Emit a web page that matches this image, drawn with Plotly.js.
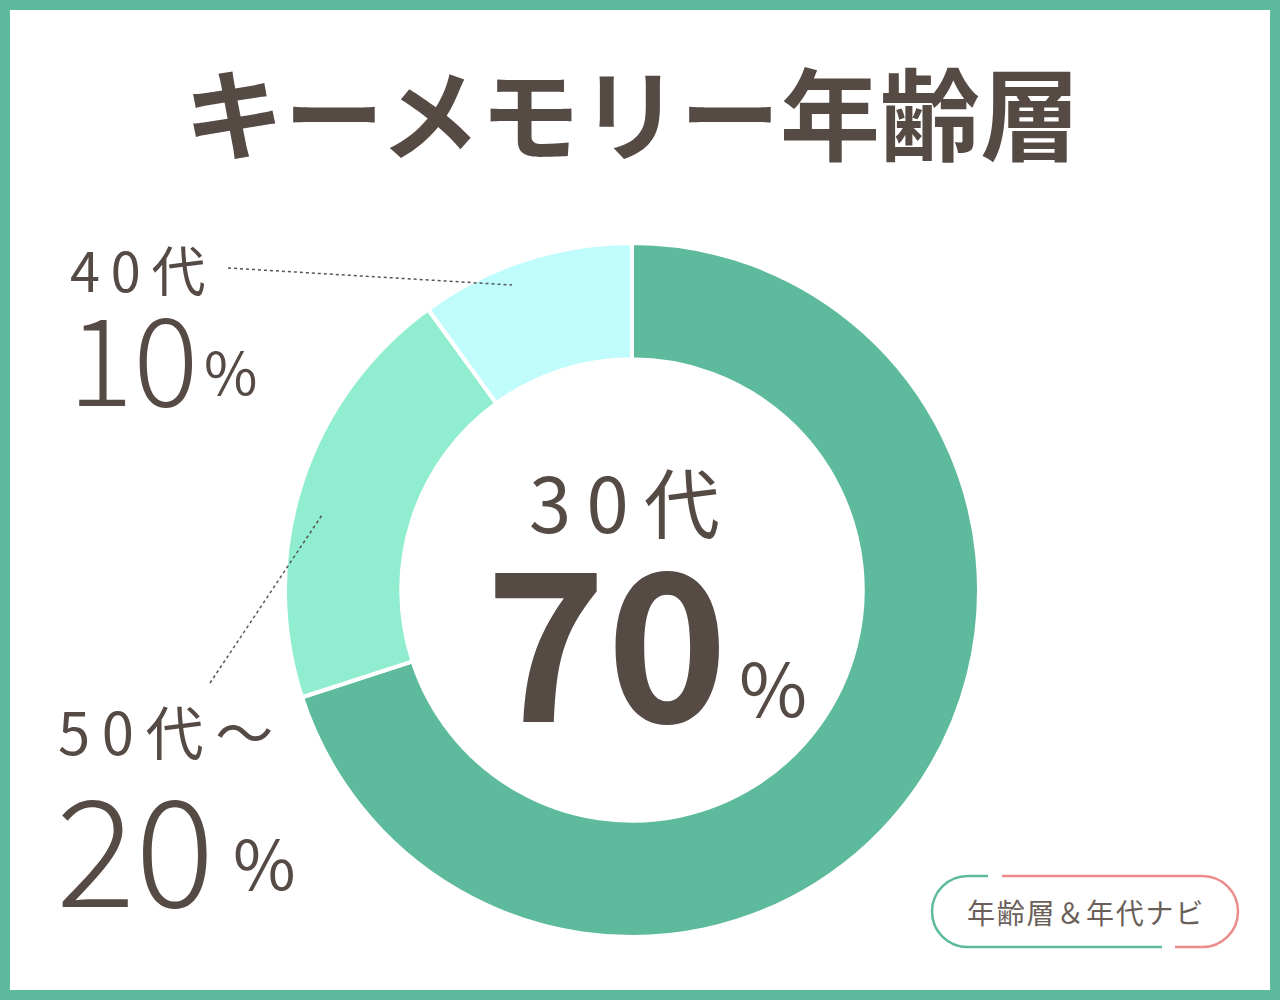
<!DOCTYPE html>
<html>
<head>
<meta charset="utf-8">
<script src="https://cdn.plot.ly/plotly-3.0.1.min.js"></script>
<style>
  body { margin: 0; background: #fff; }
  #myDiv { width: 1280px; height: 1000px; }
</style>
</head>
<body>
<div id="myDiv"></div>
<script>
var labels = ['30代', '50代～', '40代'];
var values = [70, 20, 10];
var colors = ['#5dba9d', '#90edd0', '#c1fcfc'];
var pctText = ['70', '20', '10'];

var W = 1280, H = 1000;
function px(x) { return x / W; }
function py(y) { return 1 - y / H; }

var ink = '#564a45';
var jp = '"Noto Sans CJK JP", "Noto Sans", sans-serif';

// widen the letter spacing a little, like the rounded font of the original
function spaced(s, gap) { return s.split('').join(gap || '\u2009'); }

var trace = {
  type: 'pie',
  labels: labels,
  values: values,
  marker: { colors: colors, line: { color: '#ffffff', width: 4 } },
  hole: 0.665,
  sort: false,
  direction: 'clockwise',
  rotation: 0,
  textinfo: 'none',
  hoverinfo: 'none',
  showlegend: false,
  domain: { x: [px(285), px(979)], y: [py(937), py(243)] }
};

// badge outline (green left half, pink right half)
var k = 35.5 * 0.5523;
function P(x, y) { return px(x) + ',' + py(y); }
var greenPath = 'M' + P(988, 876) + ' L' + P(967.5, 876) +
  ' C' + P(967.5 - k, 876) + ' ' + P(932, 911.5 - k) + ' ' + P(932, 911.5) +
  ' C' + P(932, 911.5 + k) + ' ' + P(967.5 - k, 947) + ' ' + P(967.5, 947) +
  ' L' + P(1162, 947);
var pinkPath = 'M' + P(1002, 876) + ' L' + P(1202.5, 876) +
  ' C' + P(1202.5 + k, 876) + ' ' + P(1238, 911.5 - k) + ' ' + P(1238, 911.5) +
  ' C' + P(1238, 911.5 + k) + ' ' + P(1202.5 + k, 947) + ' ' + P(1202.5, 947) +
  ' L' + P(1175, 947);

var shapes = [
  { type: 'rect', xref: 'paper', yref: 'paper', x0: px(5), x1: px(1275), y0: py(5), y1: py(995),
    line: { color: '#5dba9d', width: 10 }, fillcolor: 'rgba(0,0,0,0)' },
  { type: 'line', xref: 'paper', yref: 'paper', x0: px(228), y0: py(268), x1: px(512), y1: py(285),
    line: { color: '#555555', width: 1.5, dash: 'dot' } },
  { type: 'line', xref: 'paper', yref: 'paper', x0: px(210), y0: py(683), x1: px(322), y1: py(515),
    line: { color: '#555555', width: 1.5, dash: 'dot' } },
  { type: 'path', xref: 'paper', yref: 'paper', path: greenPath, line: { color: '#5dba9d', width: 2.5 } },
  { type: 'path', xref: 'paper', yref: 'paper', path: pinkPath, line: { color: '#ec8c8c', width: 2.5 } }
];

function note(x, y, text, size, anchor, weight, color) {
  return {
    xref: 'paper', yref: 'paper', x: px(x), y: py(y), text: text, showarrow: false,
    xanchor: anchor || 'center', yanchor: 'middle',
    font: { family: jp, size: size, color: color || ink, weight: weight || 'normal' }
  };
}

var annotations = [
  note(632, 110, 'キーメモリー年齢層', 100, 'center', 'bold'),
  // center
  note(624, 500, spaced(labels[0], '\u2009'), 76, 'center'),
  note(606, 632, pctText[0], 206, 'center', 'bold'),
  note(773, 684, '%', 74, 'center'),
  // 40代
  note(68, 268, spaced(labels[2], '\u2009'), 54, 'left'),
  note(66, 352, pctText[2], 122, 'left', 300),
  note(230, 370, '%', 58, 'center'),
  // 50代～
  note(56, 730, spaced(labels[1], '\u2009'), 58, 'left'),
  note(54, 842, pctText[1], 148, 'left', 300),
  note(264, 860, '%', 68, 'center'),
  // badge
  note(1085, 912, spaced('年齢層＆年代ナビ', '\u200a'), 28, 'center', 'normal', '#6b5f5a')
];

var layout = {
  width: W, height: H,
  margin: { l: 0, r: 0, t: 0, b: 0 },
  paper_bgcolor: '#ffffff',
  plot_bgcolor: '#ffffff',
  shapes: shapes,
  annotations: annotations
};

Plotly.newPlot('myDiv', [trace], layout, { displayModeBar: false, staticPlot: true });
</script>
</body>
</html>
